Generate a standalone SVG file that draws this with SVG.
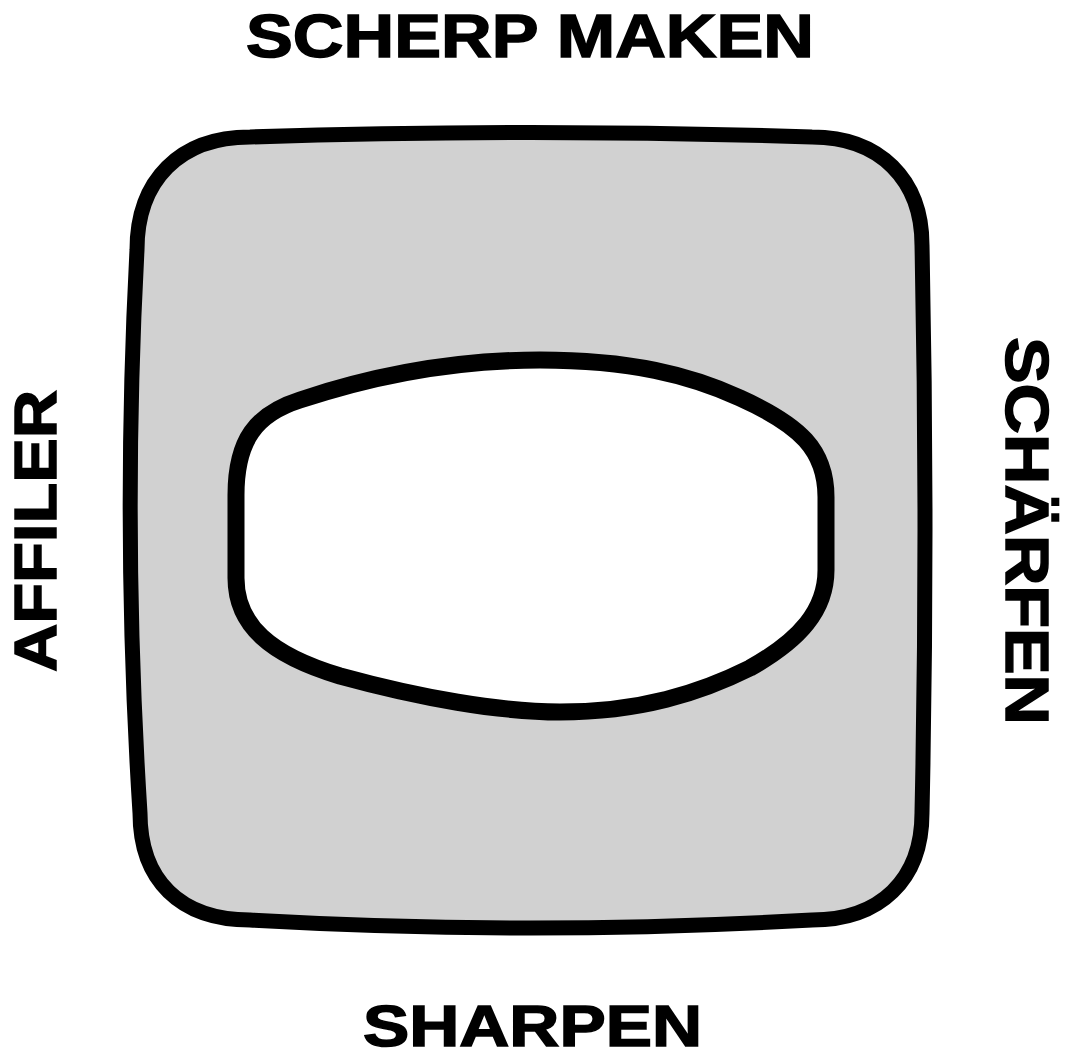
<svg xmlns="http://www.w3.org/2000/svg" width="1080" height="1060" viewBox="0 0 1080 1060">
<style>
.lbl{font-family:"Liberation Sans",Arial,sans-serif;font-weight:bold;fill:#000;stroke:#000;stroke-width:1.5}
.outer{fill:#d1d1d1;stroke:#000;stroke-width:15;stroke-linejoin:round}
.inner{fill:#fff;stroke:#000;stroke-width:17;stroke-linejoin:round}
</style>
<rect width="1080" height="1060" fill="#fff"/>
<g id="outer-shape">
<path class="outer" d="M 250,137 Q 530,128 812,137 C 880,137 922,180 922,245 Q 928,530 922,813 C 922,880 880,920 812,920 Q 530,936 250,920 C 180,920 140,880 140,813 Q 122,530 137,250 C 137,180 180,137 250,137 Z"/>
</g>
<g id="inner-shape">
<path class="inner" d="M 236,495 C 236,440 256,414 300,400 C 360,380 440,360 540,360 C 630,360 690,375 740,398 C 800,425 826,450 826,497 L 826,570 C 826,610 800,640 750,668 C 700,693 640,712 560,712 C 500,712 420,698 340,676 C 270,655 236,625 236,578 Z"/>
</g>
<g id="connectors"></g>
<g id="label-top"><text class="lbl" x="246" y="57" font-size="62" textLength="568" lengthAdjust="spacingAndGlyphs">SCHERP MAKEN</text></g>
<g id="label-bottom"><text class="lbl" x="363" y="1046" font-size="58" textLength="339" lengthAdjust="spacingAndGlyphs">SHARPEN</text></g>
<g id="label-left"><text class="lbl" transform="translate(56,672) rotate(-90)" x="0" y="0" font-size="60" textLength="282" lengthAdjust="spacingAndGlyphs">AFFILER</text></g>
<g id="label-right"><text class="lbl" transform="translate(1006,337) rotate(90)" x="0" y="0" font-size="62" textLength="388" lengthAdjust="spacingAndGlyphs">SCHÄRFEN</text></g>
</svg>
